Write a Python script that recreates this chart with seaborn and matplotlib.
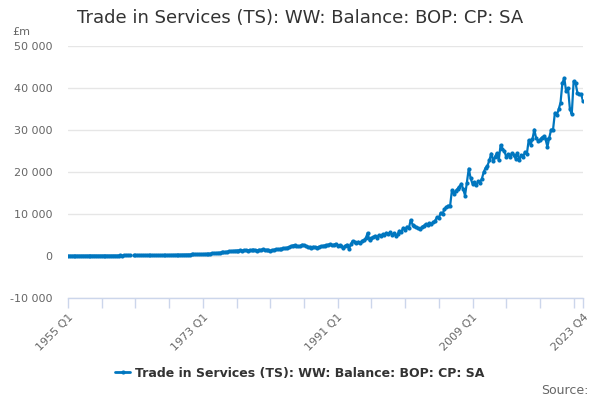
"""Trade in Services (TS): WW balance, quarterly 1955 Q1 - 2023 Q4."""

import matplotlib

matplotlib.use("Agg")
import matplotlib.pyplot as plt
import numpy as np
import pandas as pd
import seaborn as sns
from matplotlib.lines import Line2D
from matplotlib.ticker import FuncFormatter

title = "Trade in Services (TS): WW: Balance: BOP: CP: SA"
first_year = 1955
last_year = 2023

# quarterly balance, £m (Q1..Q4 per year); None = missing quarter
balance = [
    60, 70, 65, 75,            # 1955
    70, 80, 75, 85,            # 1956
    90, 85, 95, 90,            # 1957
    100, 95, 105, 100,         # 1958
    90, 95, 100, 105,          # 1959
    95, 100, 90, 100,          # 1960
    105, 110, 100, 115,        # 1961
    120, 115, 125, 130,        # 1962
    120, 125, None, 135,       # 1963
    130, 125, 140, 135,        # 1964
    140, 150, 145, 155,        # 1965
    160, 150, 170, 175,        # 1966
    180, 190, 185, 200,        # 1967
    220, 230, 240, 250,        # 1968
    260, 270, 280, 290,        # 1969
    300, 310, 320, 330,        # 1970
    340, 350, 370, 380,        # 1971
    390, 400, 420, 430,        # 1972
    450, 480, 500, 530,        # 1973
    560, 600, 640, 690,        # 1974
    750, 800, 850, 900,        # 1975
    950, 1050, 1100, 1150,     # 1976
    1200, 1250, 1300, 1280,    # 1977
    1350, 1300, 1400, 1380,    # 1978
    1300, 1450, 1350, 1500,    # 1979
    1400, 1300, 1500, 1450,    # 1980
    1600, 1400, 1500, 1350,    # 1981
    1250, 1400, 1500, 1600,    # 1982
    1550, 1650, 1700, 1800,    # 1983
    1850, 2000, 2100, 2300,    # 1984
    2500, 2600, 2400, 2300,    # 1985
    2400, 2700, 2600, 2400,    # 1986
    2200, 2100, 2000, 2200,    # 1987
    2100, 2000, 2200, 2300,    # 1988
    2400, 2500, 2600, 2700,    # 1989
    2800, 2600, 2700, 2900,    # 1990
    2500, 2600, 2300, 2000,    # 1991
    2400, 2700, 1600, 2800,    # 1992
    3600, 3300, 3000, 3400,    # 1993
    3100, 3600, 3800, 4200,    # 1994
    5500, 3700, 4200, 4500,    # 1995
    4800, 4400, 5000, 4700,    # 1996
    5200, 5000, 5500, 5300,    # 1997
    5600, 5100, 5400, 4800,    # 1998
    5200, 6000, 5800, 6700,    # 1999
    6300, 7000, 6600, 8600,    # 2000
    7500, 7100, 6800, 6600,    # 2001
    6400, 6900, 7200, 7600,    # 2002
    7300, 7800, 7600, 8000,    # 2003
    8400, 9200, 9000, 10300,   # 2004
    10000, 11200, 11600, 12000,  # 2005
    11800, 15600, 14800, 15500,  # 2006
    16000, 16500, 17200, 16000,  # 2007
    14400, 17500, 20800, 18500,  # 2008
    17200, 17600, 16800, 17800,  # 2009
    17500, 18400, 20000, 21000,  # 2010
    21500, 22800, 24400, 22600,  # 2011
    23600, 24500, 22800, 26400,  # 2012
    25500, 25000, 23600, 24200,  # 2013
    23500, 24500, 24000, 23200,  # 2014
    24500, 22800, 24000, 23500,  # 2015
    24800, 24200, 27600, 26500,  # 2016
    27800, 30100, 28000, 27500,  # 2017
    27700, 28200, 28500, 27800,  # 2018
    26000, 28200, 30100, 30100,  # 2019
    34100, 33500, 34900, 36500,  # 2020
    41200, 42400, 39200, 40000,  # 2021
    35000, 33800, 41600, 41200,  # 2022
    38900, 38600, 38500, 36900,  # 2023
]

labelled_quarters = ["1955 Q1", "1973 Q1", "1991 Q1", "2009 Q1", "2023 Q4"]
y_ticks = [-10000, 0, 10000, 20000, 30000, 40000, 50000]

blue = "#0076bf"
grey_text = "#666666"
axis_col = "#ccd6eb"

quarters = [f"{y} Q{q}" for y in range(first_year, last_year + 1) for q in range(1, 5)]
df = pd.DataFrame({"quarter": quarters, "value": balance})
df["value"] = df["value"].astype(float)
df["pos"] = np.arange(len(df))
# split the series where a quarter is missing so the line shows a gap
df["segment"] = df["value"].isna().cumsum()
df = df.dropna()

sns.set_theme(style="white")
plt.rcParams["font.family"] = ["DejaVu Sans"]

fig = plt.figure(figsize=(6, 4), dpi=100)
ax = fig.add_axes([68 / 600, 1 - 298 / 400, (583 - 68) / 600, (298 - 46) / 400])

sns.lineplot(
    data=df,
    x="pos",
    y="value",
    units="segment",
    estimator=None,
    color=blue,
    linewidth=1.6,
    marker="o",
    markersize=3,
    markeredgewidth=0,
    ax=ax,
)

ax.set_xlim(0, len(quarters) - 1)
ax.set_ylim(-10000, 50000)
ax.set_yticks(y_ticks)
ax.yaxis.set_major_formatter(FuncFormatter(lambda v, _: f"{int(v):,}".replace(",", " ")))
ax.yaxis.grid(True, color="#e6e6e6", linewidth=1)
ax.set_axisbelow(True)

major = [quarters.index(q) for q in labelled_quarters]
minor = [p for p in range(0, len(quarters), 18) if p not in major]
ax.set_xticks(major)
ax.set_xticklabels(labelled_quarters, rotation=45, ha="right", rotation_mode="anchor")
ax.set_xticks(minor, minor=True)
ax.tick_params(axis="x", which="both", length=7, width=1, color=axis_col,
               labelsize=8, labelcolor=grey_text, pad=3, bottom=True)
ax.tick_params(axis="y", length=0, labelsize=8, labelcolor=grey_text, pad=11)
ax.set(xlabel="", ylabel="")

for side in ["top", "right", "left"]:
    ax.spines[side].set_visible(False)
ax.spines["bottom"].set_color(axis_col)
ax.spines["bottom"].set_linewidth(1)

fig.text(0.5, 1 - 18 / 400, title, ha="center", va="center", fontsize=13, color="#333333")
fig.text(12 / 600, 1 - 32 / 400, "£m", ha="left", va="center", fontsize=8, color=grey_text)

handle = Line2D([], [], color=blue, linewidth=2, marker="o", markersize=3, markeredgewidth=0)
fig.legend([handle], [title], loc="center", bbox_to_anchor=(0.5, 1 - 373 / 400),
           frameon=False, handlelength=1.2, handletextpad=0.4,
           prop={"weight": "bold", "size": 9}, labelcolor="#333333")
fig.text(589 / 600, 1 - 390 / 400, "Source:", ha="right", va="center", fontsize=9, color=grey_text)

fig.savefig("out.png", dpi=100)
plt.close(fig)
